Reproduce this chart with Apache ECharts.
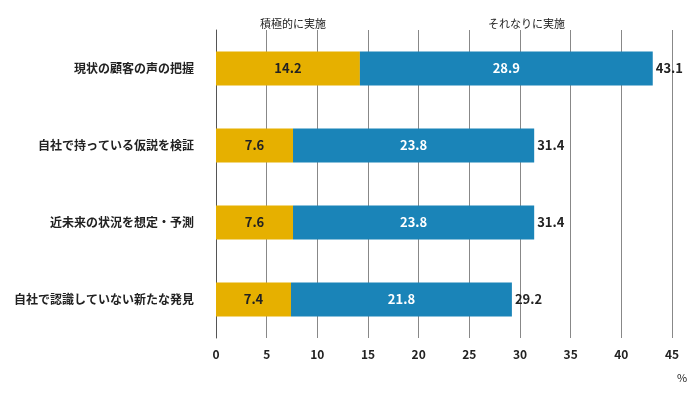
<!DOCTYPE html>
<html>
<head>
<meta charset="utf-8">
<script src="https://cdn.jsdelivr.net/npm/echarts@6/dist/echarts.min.js"></script>
<style>html,body{margin:0;padding:0;background:#fff}#chart{width:693px;height:410px}</style>
</head>
<body>
<div id="chart"></div>
<script>
var categories = ['現状の顧客の声の把握', '自社で持っている仮説を検証', '近未来の状況を想定・予測', '自社で認識していない新たな発見'];
var active = [14.2, 7.6, 7.6, 7.4];
var somewhat = [28.9, 23.8, 23.8, 21.8];
var totals = [43.1, 31.4, 31.4, 29.2];

var chart = echarts.init(document.getElementById('chart'));
var font = '"Noto Sans CJK JP", sans-serif';

chart.setOption({
  textStyle: { fontFamily: font },
  legend: [
    { data: ['積極的に実施'], left: 250, top: 12, icon: 'none', itemWidth: 0, textStyle: { fontSize: 11, color: '#222' } },
    { data: ['それなりに実施'], left: 478, top: 12, icon: 'none', itemWidth: 0, textStyle: { fontSize: 11, color: '#222' } }
  ],
  grid: { left: 216, right: 21, top: 30, bottom: 72 },
  xAxis: {
    type: 'value', min: 0, max: 45, interval: 5,
    axisLine: { show: false },
    axisTick: { show: false },
    axisLabel: { color: '#222', fontSize: 12, fontWeight: 'bold', margin: 10 },
    splitLine: { lineStyle: { color: '#888' } }
  },
  yAxis: {
    type: 'category', data: categories, inverse: true,
    axisLine: { lineStyle: { color: '#555' } },
    axisTick: { length: 8, lineStyle: { color: '#555' } },
    axisLabel: { color: '#222', fontSize: 12, fontWeight: 'bold', margin: 22 }
  },
  graphic: [
    { type: 'text', left: 677, top: 372, style: { text: '%', fontSize: 11, fontFamily: font, fill: '#222' } }
  ],
  series: [
    {
      name: '積極的に実施', type: 'bar', stack: 's', barWidth: 34, data: active,
      itemStyle: { color: '#E6B000' },
      label: { show: true, position: 'inside', color: '#222', fontSize: 13, fontWeight: 'bold' }
    },
    {
      name: 'それなりに実施', type: 'bar', stack: 's', barWidth: 34, data: somewhat,
      itemStyle: { color: '#1A84B8' },
      label: { show: true, position: 'inside', color: '#fff', fontSize: 13, fontWeight: 'bold' }
    },
    {
      name: '合計', type: 'bar', stack: 's', barWidth: 34, data: totals.map(function () { return 0; }),
      itemStyle: { color: 'transparent' },
      label: {
        show: true, position: 'right', distance: 3, color: '#222', fontSize: 13, fontWeight: 'bold',
        formatter: function (p) { return totals[p.dataIndex].toFixed(1); }
      }
    }
  ]
});
</script>
</body>
</html>
